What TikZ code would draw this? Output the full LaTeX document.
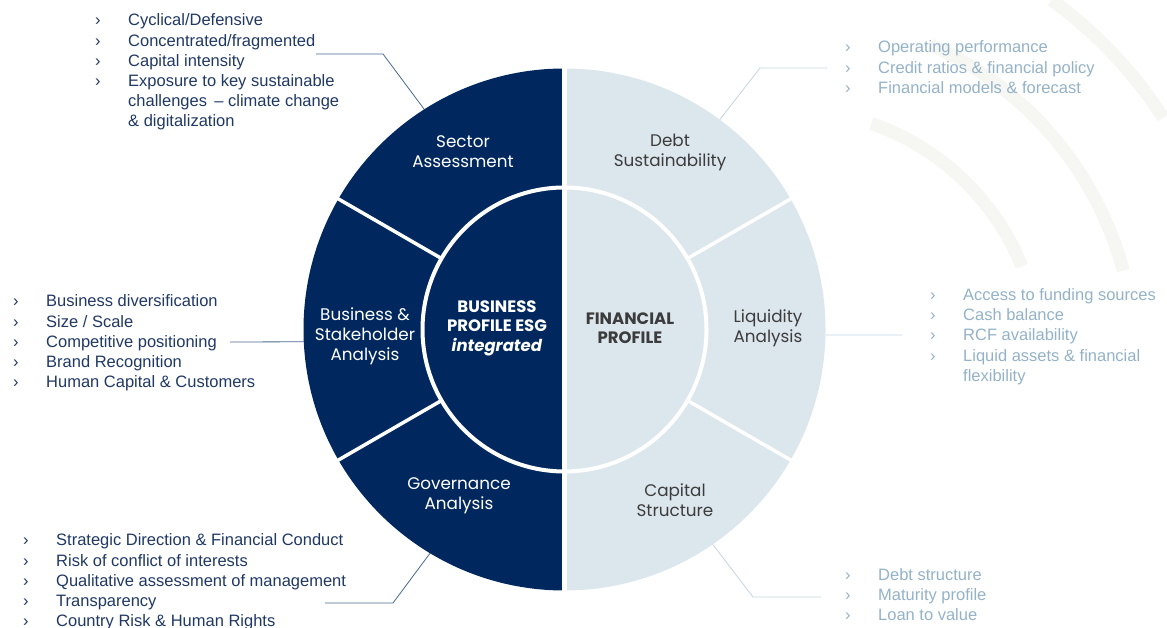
\documentclass[tikz,border=0pt]{standalone}
\usepackage{fontspec}
\setmainfont{Liberation Sans}
\newfontfamily\popfont{Poppins}
\usetikzlibrary{positioning}

\definecolor{navy}{HTML}{00285E}
\definecolor{pale}{HTML}{DCE6ED}
\definecolor{listblue}{HTML}{1F3864}
\definecolor{listgrey}{HTML}{93B2C8}
\definecolor{labgrey}{HTML}{3C3C3C}
\definecolor{linkblue}{HTML}{4A6894}
\definecolor{linkgrey}{HTML}{C3D4E0}
\definecolor{wmark}{HTML}{F6F6F3}

% one bullet line of a list
\newcommand{\itm}[1]{\makebox[33pt][l]{›}#1}
\newcommand{\itmgap}{\makebox[33pt][l]{}}

\begin{document}
\begin{tikzpicture}[x=1pt,y=1pt,
    seglab/.style={align=center,font=\popfont\fontsize{16.8}{20}\selectfont},
    midlab/.style={align=center,font=\popfont\bfseries\fontsize{16.5}{19.5}\selectfont},
    blist/.style={align=left,anchor=base west,inner sep=0pt,text=listblue,font=\fontsize{16.5}{20.2}\selectfont},
    glist/.style={blist,text=listgrey},
    blink/.style={linkblue,line width=0.8pt},
    glink/.style={linkgrey,line width=0.8pt}]
    \useasboundingbox (0,0) rectangle (1167,628);

    % watermark in the corner
    \draw[wmark,line width=13pt] (790,268) ++(71:250) arc (71:22:250);
    \draw[wmark,line width=13pt] (790,268) ++(66:345) arc (66:15:345);
    \draw[wmark,line width=13pt] (790,268) ++(54:445) arc (54:33:445);

    \coordinate (C) at (564.5,298.5);

    % lists (anchored at the baseline of their last line)
    \node[blist] (seclist) at (95,501) {\itm{Cyclical/Defensive}\\ \itm{Concentrated/fragmented}\\ \itm{Capital intensity}\\ \itm{Exposure to key sustainable}\\ \itmgap challenges \,-- climate change\\ \itmgap\& digitalization};
    \node[blist] (buslist) at (13,240.2) {\itm{Business diversification}\\ \itm{Size / Scale}\\ \itm{Competitive positioning}\\ \itm{Brand Recognition}\\ \itm{Human Capital \& Customers}};
    \node[blist] (govlist) at (23,1.2) {\itm{Strategic Direction \& Financial Conduct}\\ \itm{Risk of conflict of interests}\\ \itm{Qualitative assessment of management}\\ \itm{Transparency}\\ \itm{Country Risk \& Human Rights}};
    \node[glist] (debtlist) at (845,534.6) {\itm{Operating performance}\\ \itm{Credit ratios \& financial policy}\\ \itm{Financial models \& forecast}};
    \node[glist] (liqlist) at (930,246.7) {\itm{Access to funding sources}\\ \itm{Cash balance}\\ \itm{RCF availability}\\ \itm{Liquid assets \& financial}\\ \itmgap flexibility};
    \node[glist] (caplist) at (845,7.1) {\itm{Debt structure}\\ \itm{Maturity profile}\\ \itm{Loan to value}};

    % callout lines
    \coordinate (secpt) at ([shift={(122.5:261)}]C);
    \coordinate (buspt) at ([shift={(182.7:261)}]C);
    \coordinate (govpt) at ([shift={(239:261)}]C);
    \coordinate (debtpt) at ([shift={(53.5:261)}]C);
    \coordinate (liqpt) at ([shift={(358.8:261)}]C);
    \coordinate (cappt) at ([shift={(304.6:261)}]C);
    \draw[blink] (secpt) -- (383,574) -- (316,574);
    \draw[blink] (buspt) -- (230,286);
    \draw[blink] (govpt) -- (393,25) -- (325,25);
    \draw[glink] (debtpt) -- (760,560) -- (827,560);
    \draw[glink] (liqpt) -- (902,293);
    \draw[glink] (cappt) -- (753,31) -- (821,31);

    % the wheel
    \fill[navy] (C) -- ++(90:261) arc (90:270:261) -- cycle;
    \fill[pale] (C) -- ++(-90:261) arc (-90:90:261) -- cycle;
    \foreach \a in {30,150,210,330}
        \draw[white,line width=3.5pt] ([shift={(\a:142)}]C) -- ([shift={(\a:263)}]C);
    \draw[white,line width=4pt] (C) circle (142);
    \draw[white,line width=5pt] ([shift={(90:263)}]C) -- ([shift={(-90:263)}]C);

    % labels
    \node[seglab,text=white] (sector) at (463,476) {Sector\\Assessment};
    \node[seglab,text=white] (business) at (365,292) {Business \&\\Stakeholder\\Analysis};
    \node[seglab,text=white] (govern) at (459,132) {Governance\\Analysis};
    \node[seglab,text=labgrey] (debt) at (670,476) {Debt\\Sustainability};
    \node[seglab,text=labgrey] (liquid) at (768,300) {Liquidity\\Analysis};
    \node[seglab,text=labgrey] (capital) at (675,128) {Capital\\Structure};
    \node[midlab,text=white] (bprofile) at (497,300) {BUSINESS\\PROFILE ESG\\\textit{integrated}};
    \node[midlab,text=labgrey] (fprofile) at (630,300) {FINANCIAL\\PROFILE};
\end{tikzpicture}
\end{document}
